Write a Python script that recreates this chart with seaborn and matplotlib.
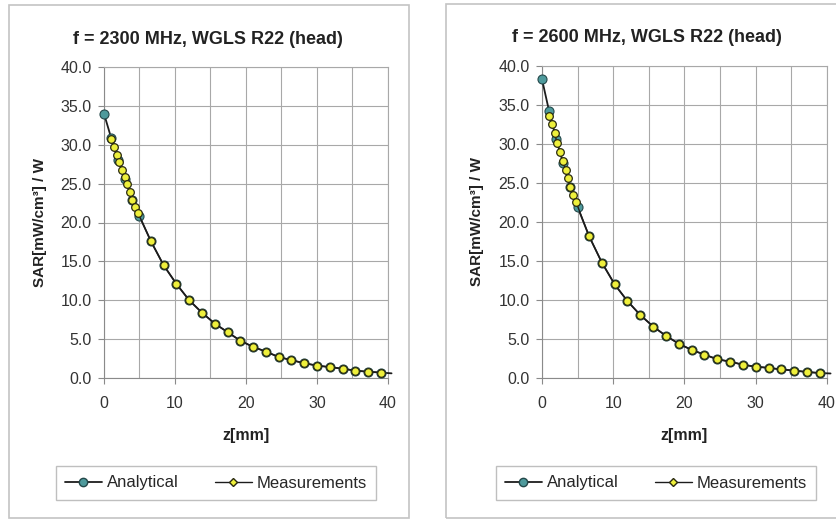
import matplotlib
matplotlib.use("Agg")
import matplotlib.pyplot as plt
from matplotlib.lines import Line2D
from matplotlib.patches import Rectangle
import seaborn as sns

# measurement depths (mm), same for both frequencies
z_meas = [1.0, 1.4, 1.8, 2.1, 2.5, 2.9, 3.3, 3.6, 4.0, 4.4, 4.8,
          6.6, 8.4, 10.2, 12.0, 13.8, 15.6, 17.4, 19.2, 21.0, 22.8,
          24.6, 26.4, 28.2, 30.0, 31.8, 33.6, 35.4, 37.2, 39.0]

sar_meas_2300 = [30.8, 29.7, 28.7, 27.8, 26.8, 25.9, 24.9, 23.9, 22.9, 22.0, 21.2,
                 17.6, 14.5, 12.1, 10.0, 8.4, 7.0, 5.9, 4.8, 4.0, 3.4,
                 2.7, 2.3, 1.9, 1.6, 1.4, 1.2, 0.95, 0.8, 0.7]
sar_meas_2600 = [33.6, 32.6, 31.4, 30.1, 29.0, 27.8, 26.7, 25.6, 24.5, 23.4, 22.5,
                 18.2, 14.8, 12.0, 9.85, 8.07, 6.6, 5.4, 4.4, 3.6, 3.0,
                 2.4, 2.1, 1.7, 1.45, 1.3, 1.1, 0.95, 0.77, 0.64]

# analytical curve
z_anal = [0, 1, 2, 3, 4, 5, 6.6, 8.4, 10.2, 12.0, 13.8, 15.6, 17.4, 19.2, 21.0,
          22.8, 24.6, 26.4, 28.2, 30.0, 31.8, 33.6, 35.4, 37.2, 39.0, 40.5]
sar_anal_2300 = [34.0, 30.9, 28.1, 25.6, 22.9, 20.8, 17.6, 14.5, 12.1, 10.0, 8.4,
                 7.0, 5.9, 4.8, 4.0, 3.4, 2.7, 2.3, 1.9, 1.6, 1.4, 1.2, 0.95,
                 0.8, 0.7, 0.6]
sar_anal_2600 = [38.3, 34.2, 30.6, 27.5, 24.5, 21.9, 18.2, 14.8, 12.0, 9.85, 8.07,
                 6.6, 5.4, 4.4, 3.6, 3.0, 2.4, 2.1, 1.7, 1.45, 1.3, 1.1, 0.95,
                 0.77, 0.64, 0.58]

titles = ["f = 2300 MHz, WGLS R22 (head)", "f = 2600 MHz, WGLS R22 (head)"]
x_ticks = [0, 10, 20, 30, 40]
y_ticks = [0, 5, 10, 15, 20, 25, 30, 35, 40]

sns.set_style("white")
plt.rcParams['font.family'] = ['Liberation Sans', 'DejaVu Sans']

W, H = 837, 520
fig = plt.figure(figsize=(W / 100, H / 100), dpi=100)


def px(x0, y0, x1, y1):
    # pixel box (top-left origin) -> figure fraction rect
    return [x0 / W, 1 - y1 / H, (x1 - x0) / W, (y1 - y0) / H]


TEAL = '#4e9a9c'
YELLOW = '#eef03c'
LINE = '#1c1c1c'
GRID = '#a8a8a8'

panels = [
    dict(box=(9, 5, 409, 518), ax=(104, 67, 388, 378), title_xy=(208, 40),
         ylab_x=-0.20, leg_c=(216, 483), anal=sar_anal_2300, meas=sar_meas_2300),
    dict(box=(446, 4, 860, 518), ax=(542, 66, 827, 378), title_xy=(647, 37),
         ylab_x=-0.205, leg_c=(656, 483), anal=sar_anal_2600, meas=sar_meas_2600),
]

for i, p in enumerate(panels):
    # chart-area border
    bx0, by0, bx1, by1 = p['box']
    fig.patches.append(Rectangle((bx0 / W, 1 - by1 / H), (bx1 - bx0) / W, (by1 - by0) / H,
                                 transform=fig.transFigure, fill=False,
                                 edgecolor='#c4c4c4', linewidth=1.2))

    ax = fig.add_axes(px(*p['ax']))
    sns.lineplot(x=z_anal, y=p['anal'], ax=ax, color=LINE, linewidth=1.3,
                 marker='o', markersize=6.5, markerfacecolor=TEAL,
                 markeredgecolor='#24484a', markeredgewidth=0.8,
                 markevery=list(range(len(z_anal) - 1)),
                 estimator=None, sort=False, clip_on=False, zorder=3)
    sns.lineplot(x=z_meas, y=p['meas'], ax=ax, color=LINE, linewidth=1.0,
                 marker='o', markersize=5.5, markerfacecolor=YELLOW,
                 markeredgecolor='#2a2a10', markeredgewidth=0.9,
                 estimator=None, sort=False, clip_on=False, zorder=4)

    ax.set_xlim(0, 40)
    ax.set_ylim(0, 40)
    ax.set_xticks(x_ticks)
    ax.set_xticks([5, 15, 25, 35], minor=True)
    ax.set_yticks(y_ticks)
    ax.set_yticklabels([f"{v:.1f}" for v in y_ticks])
    ax.grid(True, which='both', color=GRID, linewidth=0.8)
    ax.set_axisbelow(True)
    for s in ax.spines.values():
        s.set_color(GRID)
        s.set_linewidth(0.8)
    ax.spines['left'].set_color('#8a8a8a')
    ax.spines['bottom'].set_color('#8a8a8a')
    ax.tick_params(axis='both', which='major', labelsize=11.5, colors='#8a8a8a',
                   labelcolor='#333333', length=4, width=0.8, direction='out',
                   left=True, bottom=True, pad=5)
    ax.tick_params(axis='x', which='major', pad=9)
    ax.tick_params(axis='x', which='minor', length=0)

    ax.set_xlabel("z[mm]", fontsize=11.5, fontweight='bold', color='#222222')
    ax.set_ylabel("SAR[mW/cm³] / W", fontsize=11, fontweight='bold', color='#222222')
    ax.xaxis.set_label_coords(0.5, -0.16)
    ax.yaxis.set_label_coords(p['ylab_x'], 0.5)

    fig.text(p['title_xy'][0] / W, 1 - p['title_xy'][1] / H, titles[i],
             ha='center', va='center', fontsize=13, fontweight='bold', color='#222222')

    handles = [
        Line2D([], [], color=LINE, linewidth=1.3, marker='o', markersize=6,
               markerfacecolor=TEAL, markeredgecolor='#24484a'),
        Line2D([], [], color=LINE, linewidth=1.0, marker='D', markersize=4.5,
               markerfacecolor=YELLOW, markeredgecolor='#2a2a10'),
    ]
    leg = ax.legend(handles, ["Analytical", "Measurements"], ncol=2,
                    loc='center', bbox_to_anchor=(p['leg_c'][0] / W, 1 - p['leg_c'][1] / H),
                    bbox_transform=fig.transFigure, frameon=True, fancybox=False,
                    edgecolor='#b0b0b0', fontsize=12, handlelength=2.2,
                    handletextpad=0.3, columnspacing=2.2, borderpad=0.55,
                    borderaxespad=0)
    leg.get_frame().set_linewidth(1.0)

fig.savefig("out.png", dpi=100, facecolor='white')
